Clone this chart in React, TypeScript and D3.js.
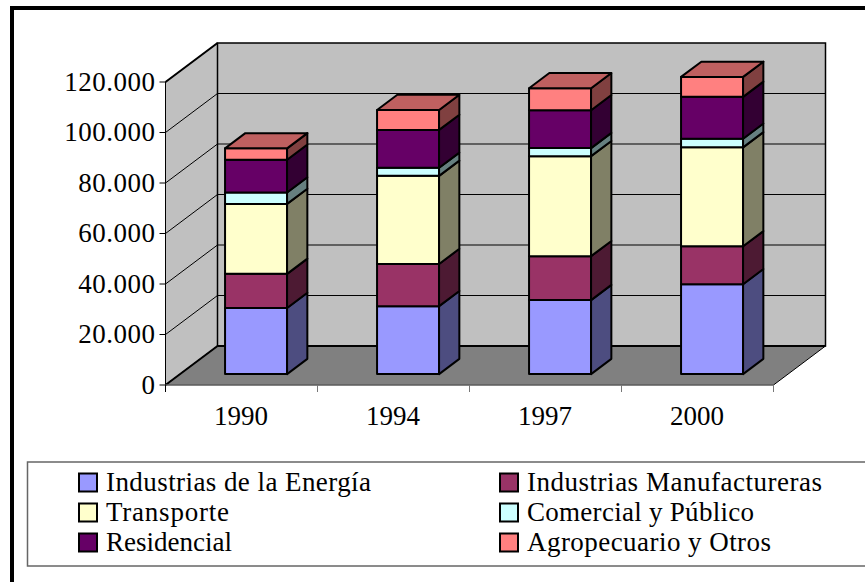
import React from "react";
import * as d3 from "d3";

const categories = ["1990", "1994", "1997", "2000"];
const seriesNames = ["Industrias de la Energía", "Industrias Manufactureras", "Transporte", "Comercial y Público", "Residencial", "Agropecuario y Otros"];
const energia = [26200, 26900, 29300, 35600];
const manufactura = [13500, 16700, 17400, 15000];
const transporte = [27700, 34900, 39600, 39200];
const comercial = [4500, 3200, 3200, 3400];
const residencial = [13000, 15000, 15000, 16600];
const agropecuario = [4500, 7900, 8700, 7900];
const allSeries = [energia, manufactura, transporte, comercial, residencial, agropecuario];
const fills = ["#9999ff", "#993366", "#ffffcc", "#ccffff", "#660066", "#ff8080"];
const sideFills = ["#4d4d80", "#4d1a33", "#808066", "#668080", "#330033", "#804040"];
const topFills = ["#7373bf", "#732650", "#bfbf99", "#99bfbf", "#4d004d", "#bf6060"];
const yTicks = [0, 20000, 40000, 60000, 80000, 100000, 120000];

const x0 = 165.5, x1 = 773.5, yBase = 385, yTop = 82;
const depthX = 52, depthY = 39;
const legendTextWidths = [265, 295, 123, 227, 126, 244];
const fmt = (v: number) => d3.format(",")(v).replace(/,/g, ".");

export default function App() {
  const y = d3.scaleLinear().domain([0, 120000]).range([yBase, yTop]);
  const band = d3.scaleBand<string>().domain(categories).range([x0, x1]).paddingInner(0.592).paddingOuter(0.296);
  const pt = (x: number, v: number, z: number): [number, number] => [x + z * depthX, y(v) - z * depthY];
  const poly = (pts: [number, number][]) => pts.map((p) => p.join(",")).join(" ");
  const z0 = 0.28, z1 = 0.67;
  const stacked = d3.stack<number>().keys(d3.range(6) as any).value((_d, k) => allSeries[k as any][_d])(d3.range(4));
  const serif = "'Liberation Serif', 'Times New Roman', serif";
  const legendCols = [78, 499];
  const legendRows = [483, 513, 543];
  return (
    <svg width={865} height={582} style={{ position: "fixed", left: 0, top: 0 }} fontFamily={serif}>
      <rect x={0} y={0} width={865} height={582} fill="#fff" />
      <path d="M12,582 V8 H865" fill="none" stroke="#000" strokeWidth={4} />
      {/* walls */}
      <polygon points={poly([pt(x0, 0, 0), pt(x0, 0, 1), pt(x0, 120000, 1), pt(x0, 120000, 0)])} fill="#c0c0c0" stroke="#000" strokeWidth={1} />
      <polygon points={poly([pt(x0, 0, 1), pt(x1, 0, 1), pt(x1, 120000, 1), pt(x0, 120000, 1)])} fill="#c0c0c0" stroke="#000" strokeWidth={1.5} />
      <polygon points={poly([pt(x0, 0, 0), pt(x1, 0, 0), pt(x1, 0, 1), pt(x0, 0, 1)])} fill="#808080" stroke="#000" strokeWidth={1} />
      <line x1={x0} y1={yBase} x2={pt(x0, 0, 1)[0]} y2={pt(x0, 0, 1)[1]} stroke="#000" strokeWidth={2} />
      <line x1={x0} y1={yTop} x2={pt(x0, 120000, 1)[0]} y2={pt(x0, 120000, 1)[1]} stroke="#000" strokeWidth={2} />
      <line x1={pt(x0, 0, 1)[0]} y1={pt(x0, 0, 1)[1]} x2={pt(x1, 0, 1)[0]} y2={pt(x1, 0, 1)[1]} stroke="#000" strokeWidth={2} />
      {yTicks.slice(1, -1).map((t) => (
        <polyline key={t} points={poly([pt(x0, t, 0), pt(x0, t, 1), pt(x1, t, 1)])} fill="none" stroke="#000" strokeWidth={1} />
      ))}
      {/* axes */}
      <line x1={x0} y1={yBase} x2={x1} y2={yBase} stroke="#888" strokeWidth={1} />
      {yTicks.map((t) => (
        <g key={t}>
          <line x1={x0 - 6} x2={x0} y1={y(t)} y2={y(t)} stroke="#000" strokeWidth={1} />
          <text x={155.5} y={y(t) + 8.7} textAnchor="end" fontSize={27} letterSpacing={0.5} fill="#000">{fmt(t)}</text>
        </g>
      ))}
      {d3.range(5).map((i) => (
        <line key={i} x1={x0 + (i * (x1 - x0)) / 4} x2={x0 + (i * (x1 - x0)) / 4} y1={yBase} y2={yBase + 7} stroke={i === 0 ? "#000" : "#777"} strokeWidth={1} />
      ))}
      {categories.map((c) => (
        <text key={c} x={(band(c) as number) + band.bandwidth() / 2 - 0.5} y={425} textAnchor="middle" fontSize={27} fill="#000">{c}</text>
      ))}
      {/* bars */}
      {categories.map((c, ci) => {
        const l = band(c) as number;
        const r = l + band.bandwidth();
        return (
          <g key={c} stroke="#000" strokeWidth={2} strokeLinejoin="round">
            {stacked.map((s, si) => {
              const a = s[ci][0], b = s[ci][1];
              return (
                <g key={si}>
                  <polygon points={poly([pt(l, b, z0), pt(r, b, z0), pt(r, a, z0), pt(l, a, z0)])} fill={fills[si]} />
                  <polygon points={poly([pt(r, a, z0), pt(r, b, z0), pt(r, b, z1), pt(r, a, z1)])} fill={sideFills[si]} />
                  {si === 5 && <polygon points={poly([pt(l, b, z0), pt(r, b, z0), pt(r, b, z1), pt(l, b, z1)])} fill={topFills[si]} />}
                </g>
              );
            })}
          </g>
        );
      })}
      {/* legend */}
      <rect x={27.5} y={462} width={845} height={104} fill="#fff" stroke="#666" strokeWidth={1.5} />
      {seriesNames.map((n, i) => {
        const lx = legendCols[i % 2];
        const ly = legendRows[Math.floor(i / 2)];
        return (
          <g key={n}>
            <rect x={lx + 1} y={ly - 9.5} width={18} height={18} fill={fills[i]} stroke="#000" strokeWidth={2} />
            <text x={lx + 28} y={ly + 8} fontSize={27} textLength={legendTextWidths[i]} lengthAdjust="spacing" fill="#000">{n}</text>
          </g>
        );
      })}
    </svg>
  );
}
